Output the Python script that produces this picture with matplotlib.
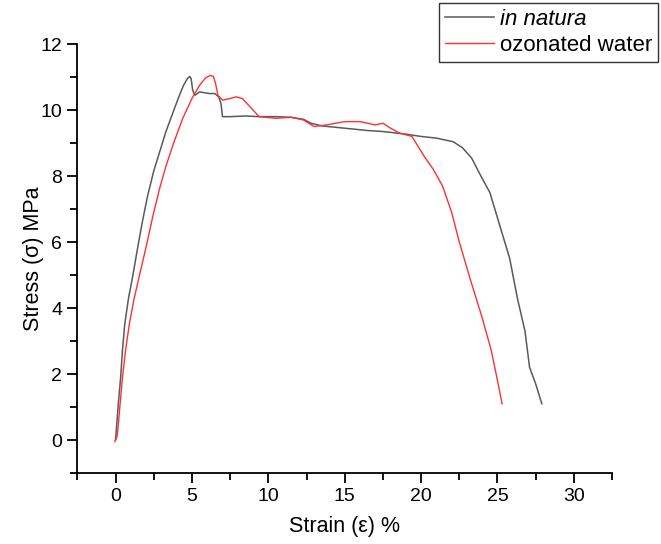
import matplotlib
matplotlib.use("Agg")
import matplotlib.pyplot as plt
from matplotlib.ticker import MultipleLocator

plt.rcParams["font.family"] = ["Liberation Sans", "DejaVu Sans"]

# in natura sample (strain %, stress MPa)
natura_strain = [0.0, 0.05, 0.2, 0.33, 0.45, 0.6, 0.85, 1.12, 1.4, 1.75, 2.1, 2.5, 2.9,
                 3.3, 3.7, 4.1, 4.45, 4.7, 4.85, 4.95, 5.05, 5.2, 5.5, 6.15, 6.5, 6.75,
                 6.9, 7.0, 7.5, 8.5, 9.4, 10.5, 11.5, 12.3, 12.8, 13.5, 15.0, 16.5, 17.5,
                 19.0, 20.0, 21.0, 22.1, 22.7, 23.3, 23.8, 24.5, 25.15, 25.8, 26.3, 26.8,
                 27.1, 27.5, 27.9]
natura_stress = [0.0, 0.3, 1.2, 1.87, 2.7, 3.5, 4.3, 4.95, 5.7, 6.6, 7.4, 8.15, 8.75,
                 9.35, 9.85, 10.35, 10.75, 10.95, 11.02, 10.95, 10.6, 10.45, 10.55, 10.5, 10.5, 10.4,
                 10.2, 9.8, 9.8, 9.82, 9.8, 9.8, 9.78, 9.72, 9.6, 9.52, 9.45, 9.38, 9.35,
                 9.27, 9.2, 9.15, 9.04, 8.86, 8.55, 8.1, 7.5, 6.5, 5.5, 4.3, 3.3,
                 2.2, 1.7, 1.1]

# ozonated water sample
ozone_strain = [-0.05, 0.1, 0.15, 0.3, 0.45, 0.65, 0.9, 1.2, 1.57, 2.0, 2.45, 2.9, 3.3,
                3.8, 4.4, 5.0, 5.5, 5.9, 6.2, 6.4, 6.55, 6.7, 7.0, 7.5, 7.9, 8.3,
                8.8, 9.4, 10.5, 11.5, 12.3, 13.0, 13.8, 15.0, 16.0, 17.0, 17.5, 18.0,
                18.6, 19.4, 20.2, 20.8, 21.4, 22.0, 22.5, 23.2, 24.0, 24.6, 25.0, 25.3]
ozone_stress = [-0.05, 0.1, 0.3, 1.1, 1.87, 2.7, 3.5, 4.25, 5.0, 5.85, 6.8, 7.65, 8.3,
                9.0, 9.75, 10.35, 10.75, 10.98, 11.05, 11.02, 10.8, 10.45, 10.3, 10.35, 10.4, 10.35,
                10.1, 9.8, 9.75, 9.78, 9.7, 9.5, 9.55, 9.65, 9.65, 9.55, 9.6, 9.45,
                9.3, 9.2, 8.6, 8.2, 7.7, 6.9, 6.0, 4.9, 3.7, 2.7, 1.8, 1.1]

fig = plt.figure(figsize=(6.61, 5.44), dpi=100)
ax = fig.add_axes([0.117, 0.1305, 0.809, 0.7885])

ax.plot(natura_strain, natura_stress, color="#5a5a5a", linewidth=1.1, label="in natura")
ax.plot(ozone_strain, ozone_stress, color="#ff3030", linewidth=1.0, label="ozonated water")

ax.set_xlim(-2.5, 32.5)
ax.set_ylim(-1, 12)
ax.xaxis.set_major_locator(MultipleLocator(5))
ax.xaxis.set_minor_locator(MultipleLocator(2.5))
ax.yaxis.set_major_locator(MultipleLocator(2))
ax.yaxis.set_minor_locator(MultipleLocator(1))

ax.spines["top"].set_visible(False)
ax.spines["right"].set_visible(False)
ax.spines["left"].set_linewidth(1.3)
ax.spines["bottom"].set_linewidth(1.3)
ax.tick_params(which="major", direction="out", length=7, width=1.3, labelsize=14, pad=4)
ax.tick_params(which="minor", direction="out", length=5, width=1.3)

ax.set_xlabel("Strain (\u03b5) %", fontsize=15.5, labelpad=8)
ax.set_ylabel("Stress (\u03c3) MPa", fontsize=15.5, labelpad=-3)

leg = fig.legend(loc="upper right", bbox_to_anchor=(658 / 661, 1 - 3 / 544),
                 fontsize=16, frameon=True, fancybox=False, borderaxespad=0,
                 handlelength=2.2, handletextpad=0.3, borderpad=0.25, labelspacing=0.25)
leg.get_frame().set_edgecolor("black")
leg.get_frame().set_linewidth(1.0)
leg.get_texts()[0].set_fontstyle("italic")

fig.savefig("out.png", dpi=100)
